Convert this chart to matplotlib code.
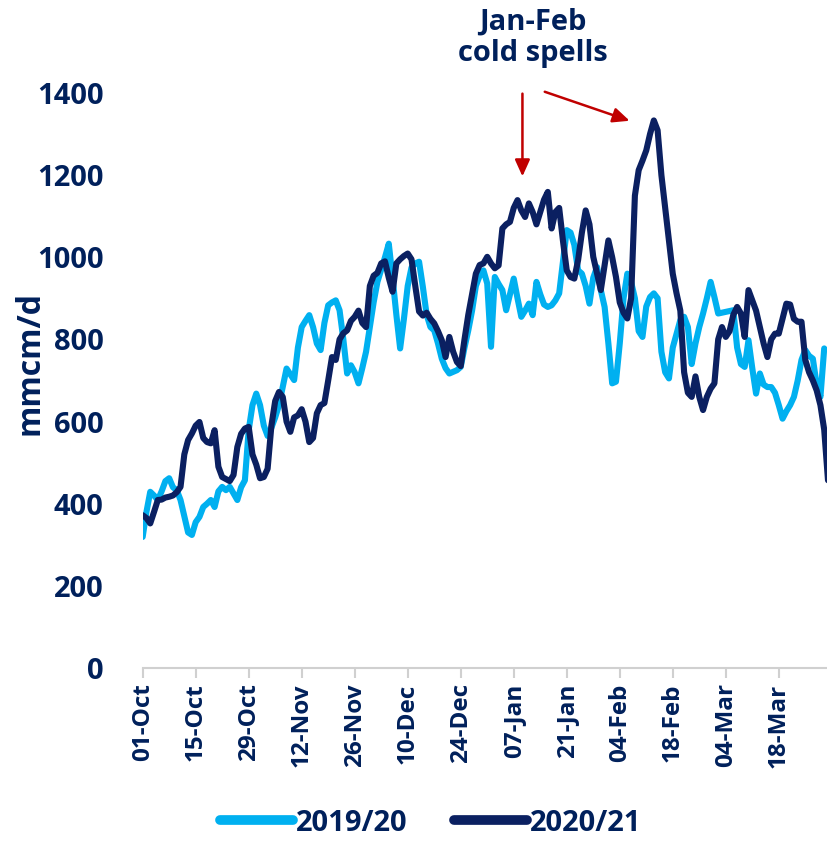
import matplotlib
matplotlib.use("Agg")
import matplotlib.pyplot as plt

plt.rcParams["font.family"] = ["Open Sans", "DejaVu Sans"]
plt.rcParams["font.weight"] = "bold"

NAVY = "#0b2061"
LIGHT = "#00b0f0"
DARK = "#00205b"
RED = "#c00000"
GREY = "#d0d0d0"

# daily values, 01-Oct .. 30-Mar (mmcm/d)
s1920 = [
    319, 380, 429, 420, 409, 430, 455, 462, 440, 433,
    409, 370, 330, 324, 355, 368, 392, 400, 409, 392,
    430, 441, 433, 441, 425, 409, 440, 457, 579, 640,
    668, 640, 590, 565, 585, 610, 640, 684, 729, 715,
    701, 780, 830, 845, 859, 830, 790, 774, 840, 883,
    890, 895, 871, 800, 717, 737, 720, 693, 730, 770,
    830, 890, 940, 970, 1000, 1033, 950, 860, 778, 850,
    930, 975, 985, 989, 928, 860, 830, 822, 790, 753,
    730, 717, 721, 725, 733, 780, 822, 870, 930, 955,
    968, 936, 782, 952, 935, 920, 871, 910, 948, 900,
    855, 870, 887, 859, 940, 910, 885, 879, 883, 895,
    912, 990, 1066, 1060, 1030, 968, 960, 930, 887, 950,
    976, 920, 879, 790, 693, 697, 790, 900, 960, 940,
    900, 820, 806, 880, 903, 912, 900, 770, 720, 705,
    780, 814, 847, 855, 830, 740, 790, 830, 863, 900,
    940, 903, 863, 865, 867, 869, 871, 780, 740, 733,
    798, 730, 668, 717, 690, 684, 684, 670, 640, 607,
    625, 640, 660, 700, 750, 774, 760, 753, 690, 660,
    778,
]

s2021 = [
    372, 365, 352, 380, 409, 410, 415, 417, 420, 428,
    441, 520, 555, 571, 590, 599, 560, 550, 547, 579,
    490, 465, 460, 455, 470, 538, 570, 583, 587, 520,
    495, 462, 465, 485, 590, 650, 672, 660, 600, 575,
    610, 615, 630, 600, 550, 560, 620, 640, 645, 700,
    757, 750, 800, 815, 822, 845, 855, 870, 840, 830,
    930, 955, 962, 985, 990, 950, 916, 985, 995, 1003,
    1009, 995, 930, 868, 858, 865, 850, 839, 820, 798,
    757, 806, 770, 745, 735, 800, 860, 910, 960, 981,
    985, 1001, 985, 973, 980, 1070, 1080, 1086, 1120, 1139,
    1114, 1098, 1131, 1110, 1080, 1110, 1140, 1159, 1070, 1110,
    1120, 1040, 968, 952, 948, 993, 1060, 1114, 1080, 1001,
    960, 920, 980, 1041, 1000, 952, 890, 865, 851, 900,
    1150, 1212, 1235, 1260, 1300, 1333, 1309, 1200, 1120, 1040,
    960, 912, 870, 720, 670, 660, 710, 660, 628, 660,
    680, 693, 800, 830, 806, 820, 860, 879, 863, 806,
    920, 895, 870, 830, 790, 757, 800, 814, 814, 850,
    887, 885, 850, 843, 843, 750, 720, 700, 676, 640,
    580, 457,
]

tick_days = [0, 14, 28, 42, 56, 70, 84, 98, 112, 126, 140, 154, 168]
tick_labels = ["01-Oct", "15-Oct", "29-Oct", "12-Nov", "26-Nov", "10-Dec",
               "24-Dec", "07-Jan", "21-Jan", "04-Feb", "18-Feb", "04-Mar", "18-Mar"]
y_ticks = [0, 200, 400, 600, 800, 1000, 1200, 1400]

fig = plt.figure(figsize=(8.28, 8.47), dpi=100)
ax = fig.add_axes([0.1723, 0.2113, 0.8277, 0.679])

ax.plot(range(len(s1920)), s1920, color=LIGHT, lw=4.4, label="2019/20",
        solid_joinstyle="round", solid_capstyle="round")
ax.plot(range(len(s2021)), s2021, color=NAVY, lw=4.4, label="2020/21",
        solid_joinstyle="round", solid_capstyle="round")

ax.set_xlim(0, 181)
ax.set_ylim(0, 1400)
ax.set_yticks(y_ticks)
ax.set_yticklabels([str(v) for v in y_ticks], fontsize=21, color=DARK, fontweight="bold")
ax.set_xticks(tick_days)
ax.set_xticklabels(tick_labels, rotation=90, fontsize=17.5, color=DARK, fontweight="bold")
ax.tick_params(axis="y", length=0, pad=28)
ax.tick_params(axis="x", length=7, width=1.5, color=GREY, pad=4)
for sp in ["top", "right", "left"]:
    ax.spines[sp].set_visible(False)
ax.spines["bottom"].set_color(GREY)
ax.spines["bottom"].set_linewidth(1.5)
ax.set_ylabel("mmcm/d", fontsize=23, color=DARK, fontweight="bold", va="center")
ax.yaxis.set_label_coords(-0.165, 0.53)

# annotation
ax.text(103, 1535, "Jan-Feb\ncold spells", ha="center", va="center",
        fontsize=21, color=DARK, fontweight="bold", linespacing=1.1, clip_on=False)
ax.annotate("", xy=(100.3, 1190), xytext=(100.3, 1405), annotation_clip=False,
            arrowprops=dict(arrowstyle="-|>,head_length=1.0,head_width=0.45",
                            color=RED, lw=1.8))
ax.annotate("", xy=(129.3, 1330), xytext=(105.5, 1405), annotation_clip=False,
            arrowprops=dict(arrowstyle="-|>,head_length=1.0,head_width=0.45",
                            color=RED, lw=1.8))

leg = fig.legend(loc="lower center", bbox_to_anchor=(0.52, -0.02), ncol=2, frameon=False,
                 handlelength=2.5, columnspacing=1.6, handletextpad=0.1,
                 prop={"size": 21, "weight": "bold"})
for t in leg.get_texts():
    t.set_color(DARK)
for h in leg.get_lines():
    h.set_linewidth(7)

fig.savefig("out.png", dpi=100)
